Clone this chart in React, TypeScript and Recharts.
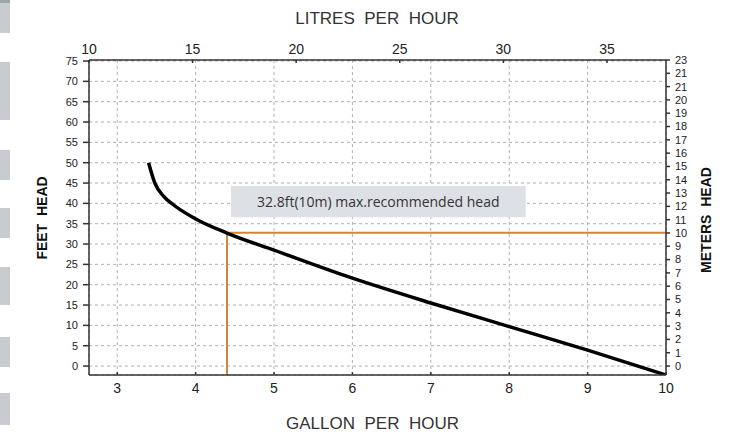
import {
  LineChart,
  Line,
  XAxis,
  YAxis,
  CartesianGrid,
  ReferenceLine,
  ReferenceArea,
} from 'recharts';

// pump curve (gallons per hour vs feet of head)
const gallons = [3.4, 3.48, 3.59, 3.72, 3.99, 4.4, 5.0, 6.0, 7.0, 8.0, 9.0, 10.0];
const feet = [50, 45, 41.8, 39.6, 36.3, 32.7, 28.5, 21.6, 15.5, 9.7, 3.9, -2.2];

const galTicks = [3, 4, 5, 6, 7, 8, 9, 10];
const litreTicks = [10, 15, 20, 25, 30, 35];
const feetTicks = [0, 5, 10, 15, 20, 25, 30, 35, 40, 45, 50, 55, 60, 65, 70, 75];
const meterTicks = [0, 1, 2, 3, 4, 5, 6, 7, 8, 9, 10, 11, 12, 13, 14, 15, 16, 17, 18, 19, 20, 21, 22, 23];
// labels as printed on the original (22 is printed as "21")
const meterLabels = ['0', '1', '2', '3', '4', '5', '6', '7', '8', '9', '10', '11', '12', '13', '14', '15', '16', '17', '18', '19', '20', '21', '21', '23'];

const maxHeadFt = 32.8;
const maxHeadGal = 4.4;
const noteText = '32.8ft(10m) max.recommended head';

const LITRES_PER_GALLON = 3.785;
const galDomain = [2.64, 10];
const litreDomain = [10, 37.85];
const feetDomain = [-2.2, 75.25];
const meterDomain = [-0.675, 23];

// grey strips along the left page edge
const edgeBlocks = [
  [0, 33],
  [62, 120],
  [150, 180],
  [208, 238],
  [267, 305],
  [337, 367],
  [393, 425],
];

const data = gallons.map((g, i) => ({ gal: g, ft: feet[i] }));

const AXIS = '#333333';
const GRID = '#b0b0b0';
const ORANGE = '#d4843c';
const FONT = '"Liberation Sans", Arial, sans-serif';

const titleStyle: React.CSSProperties = {
  position: 'absolute',
  fontFamily: FONT,
  fontSize: 17,
  color: '#333',
  whiteSpace: 'pre',
  lineHeight: 1,
};

const sideStyle: React.CSSProperties = {
  position: 'absolute',
  fontFamily: FONT,
  fontSize: 14,
  fontWeight: 'bold',
  color: '#111',
  whiteSpace: 'pre',
  lineHeight: 1,
  transform: 'translate(-50%, -50%) rotate(-90deg)',
};

export default function App() {
  return (
    <div style={{ position: 'absolute', left: 0, top: 0, width: 736, height: 436, background: '#fff' }}>
      {edgeBlocks.map(([y0, y1], i) => (
        <div
          key={`edge-${i.toString()}`}
          style={{ position: 'absolute', left: 0, top: y0, width: 10, height: y1 - y0, background: '#c8cbcf' }}
        />
      ))}
      <div style={{ position: 'absolute', left: 0, top: 0, width: 10, height: 3, background: '#9ea4ab' }} />

      <LineChart
        width={736}
        height={436}
        data={data}
        margin={{ top: 35, right: 40, bottom: 36, left: 49 }}
      >
        <CartesianGrid
          xAxisId="gal"
          yAxisId="ft"
          stroke={GRID}
          strokeDasharray="3 3"
        />
        <XAxis
          xAxisId="gal"
          dataKey="gal"
          type="number"
          orientation="bottom"
          domain={galDomain}
          ticks={galTicks}
          interval={0}
          allowDataOverflow
          height={25}
          tickSize={-3}
          tickMargin={11}
          stroke={AXIS}
          strokeWidth={1.5}
          tick={{ fontSize: 14, fill: '#222', fontFamily: FONT }}
        />
        <XAxis
          xAxisId="lit"
          dataKey={(d: { gal: number }) => d.gal * LITRES_PER_GALLON}
          type="number"
          orientation="top"
          domain={litreDomain}
          ticks={litreTicks}
          interval={0}
          allowDataOverflow
          height={25}
          tickSize={-3}
          tickMargin={9}
          stroke={AXIS}
          strokeWidth={1.5}
          tick={{ fontSize: 14, fill: '#222', fontFamily: FONT }}
        />
        <YAxis
          yAxisId="ft"
          type="number"
          orientation="left"
          domain={feetDomain}
          ticks={feetTicks}
          interval={0}
          allowDataOverflow
          width={40}
          tickSize={6}
          tickMargin={5}
          stroke={AXIS}
          strokeWidth={1.5}
          tick={{ fontSize: 11, fill: '#222', fontFamily: FONT }}
        />
        <YAxis
          yAxisId="m"
          type="number"
          orientation="right"
          domain={meterDomain}
          ticks={meterTicks}
          interval={0}
          allowDataOverflow
          width={30}
          tickSize={4}
          tickMargin={5}
          stroke={AXIS}
          strokeWidth={1.5}
          tickFormatter={(v: number) => meterLabels[v] ?? String(v)}
          tick={{ fontSize: 11, fill: '#222', fontFamily: FONT }}
        />
        <ReferenceArea
          xAxisId="gal"
          yAxisId="ft"
          x1={4.45}
          x2={8.21}
          y1={36.6}
          y2={44.3}
          fill="#dde1e6"
          fillOpacity={1}
          stroke="none"
          label={{
            value: noteText,
            position: 'center',
            fill: '#333',
            fontSize: 14,
            fontFamily: '"Open Sans", "Noto Sans", sans-serif',
          }}
        />
        <ReferenceLine
          xAxisId="gal"
          yAxisId="ft"
          segment={[
            { x: maxHeadGal, y: maxHeadFt },
            { x: galDomain[1], y: maxHeadFt },
          ]}
          stroke={ORANGE}
          strokeWidth={2}
        />
        <ReferenceLine
          xAxisId="gal"
          yAxisId="ft"
          segment={[
            { x: maxHeadGal, y: feetDomain[0] },
            { x: maxHeadGal, y: maxHeadFt },
          ]}
          stroke={ORANGE}
          strokeWidth={2}
        />
        <Line
          xAxisId="gal"
          yAxisId="ft"
          dataKey="ft"
          type="monotone"
          stroke="#000"
          strokeWidth={3.5}
          dot={false}
          activeDot={false}
          isAnimationActive={false}
        />
      </LineChart>

      <div style={{ ...titleStyle, left: 0, width: 754, top: 10, textAlign: 'center' }}>{'LITRES  PER  HOUR'}</div>
      <div style={{ ...titleStyle, left: 0, width: 745, top: 415, textAlign: 'center' }}>{'GALLON  PER  HOUR'}</div>
      <div style={{ ...sideStyle, left: 42, top: 218 }}>{'FEET  HEAD'}</div>
      <div style={{ ...sideStyle, left: 706, top: 220 }}>{'METERS  HEAD'}</div>
    </div>
  );
}
